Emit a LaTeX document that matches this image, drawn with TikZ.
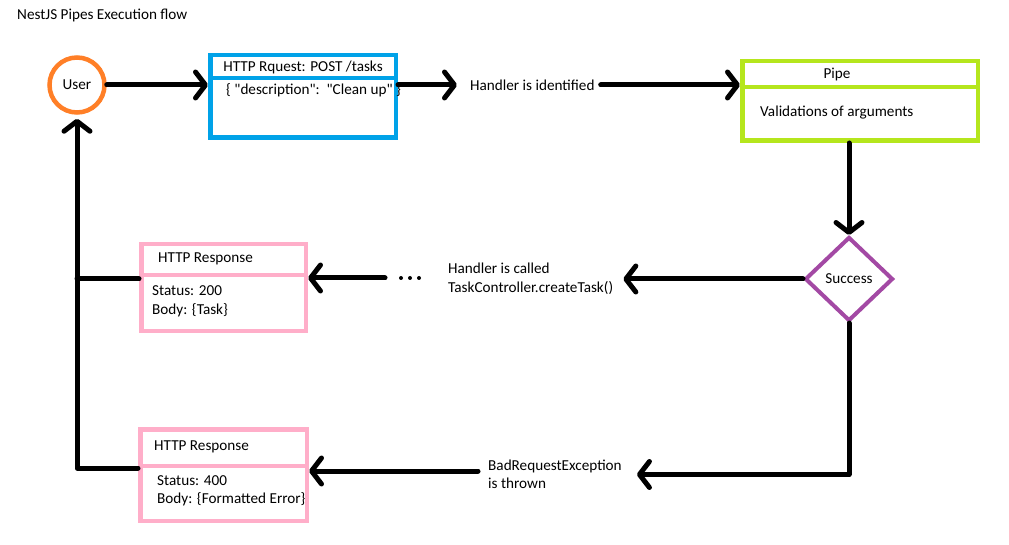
\documentclass[tikz,border=0pt]{standalone}
\usepackage{fontspec}
\setmainfont{Carlito}
\usetikzlibrary{arrows.meta,shapes.geometric}
\definecolor{porange}{HTML}{FF7F27}
\definecolor{pblue}{HTML}{00A2E8}
\definecolor{pgreen}{HTML}{B5E61D}
\definecolor{ppurple}{HTML}{A349A4}
\definecolor{ppink}{HTML}{FFAEC9}
\begin{document}
\begin{tikzpicture}[x=1pt,y=-1pt,
  every node/.style={font=\fontsize{15.2}{18.5}\selectfont, inner sep=0pt, text=black},
  lbl/.style={anchor=west},
  boxbase/.style={draw, line width=4.5pt, rectangle, inner sep=0pt},
  divider/.style={line width=4.5pt},
  conn/.style={line width=5pt, line cap=round, line join=round, -{Straight Barb[round,length=10pt,width=26pt]}},
  plainline/.style={line width=5pt, line cap=round, line join=round},
]
\fill[white] (0,0) rectangle (1009,545);
\useasboundingbox (0,0) rectangle (1009,545);

\node[lbl] (title) at (17,15) {NestJS Pipes Execution flow};

% user
\node[circle, draw=porange, line width=4.5pt, minimum size=55pt] (user) at (77,85) {User};

% request box
\node[boxbase, draw=pblue, minimum width=185.5pt, minimum height=82.5pt] (req) at (303,96.5) {};
\draw[divider, pblue] (req.west |- 0,78) -- (req.east |- 0,78);
\node (reqtitle) at (303,67) {HTTP Rquest: POST /tasks};
\node[lbl] (reqbody) at (226,90) {\{ \textquotedbl description\textquotedbl:\ \ \textquotedbl Clean up\textquotedbl\ \}};

\node[lbl] (hid) at (470,85) {Handler is identified};

% pipe box
\node[boxbase, draw=pgreen, minimum width=235.5pt, minimum height=79.5pt] (pipe) at (860,101) {};
\draw[divider, pgreen] (pipe.west |- 0,87) -- (pipe.east |- 0,87);
\node (pipetitle) at (837,74) {Pipe};
\node[lbl] (pipebody) at (760,113) {Validations of arguments};

% decision
\node[diamond, draw=ppurple, line width=4pt, minimum width=88pt, minimum height=84pt] (dec) at (849,279) {Success};

\node[lbl, align=left] (called) at (448,279) {Handler is called\\TaskController.createTask()};

% response 1
\node[boxbase, draw=ppink, minimum width=164.5pt, minimum height=86.5pt] (resp1) at (223.5,287.5) {};
\draw[divider, ppink] (resp1.west |- 0,275) -- (resp1.east |- 0,275);
\node[lbl] (r1title) at (158,259) {HTTP Response};
\node[lbl, align=left] (r1body) at (152,301.5) {Status: 200\\Body: \{Task\}};

% response 2
\node[boxbase, draw=ppink, minimum width=166.5pt, minimum height=91.5pt] (resp2) at (223.5,475) {};
\draw[divider, ppink] (resp2.west |- 0,466) -- (resp2.east |- 0,466);
\node[lbl] (r2title) at (154,447) {HTTP Response};
\node[lbl, align=left] (r2body) at (157,491) {Status: 400\\Body: \{Formatted Error\}};

\node[lbl, align=left] (bad) at (488,474.5) {BadRequestException\\is thrown};

% dots
\coordinate (dots) at (385,278);
\foreach \dx in {401,410,419} \fill (\dx,278) circle (2pt);

% connectors
\draw[conn] (user.east) -- (user.east -| req.west);
\draw[conn] (req.east |- user.east) -- ([xshift=-13pt]hid.west);
\draw[conn] ([xshift=6pt]hid.east) -- (hid.east -| pipe.west);
\draw[conn] (dec.north |- pipe.south) -- (dec.north);
\draw[conn] (dec.west) -- ([xshift=10pt]called.east);
\draw[conn] (dots) -- (dots -| resp1.east);
\draw[conn] (dec.south) |- ([xshift=15pt]bad.east);
\draw[conn] ([xshift=-10pt,yshift=3.5pt]bad.west) coordinate (b0) -- (b0 -| resp2.east);
\draw[conn, shorten >=4pt] ([yshift=7pt]resp2.west) -| (user.south);
\draw[plainline] ([yshift=8.5pt]resp1.west) coordinate (r1) -- (r1 -| user.south);
\end{tikzpicture}
\end{document}
